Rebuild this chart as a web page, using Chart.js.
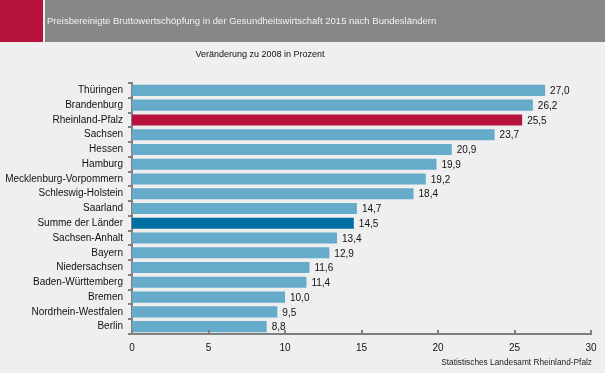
<!DOCTYPE html>
<html>
<head>
<meta charset="utf-8">
<script src="https://cdn.jsdelivr.net/npm/chart.js@4/dist/chart.umd.min.js"></script>
<style>
  body { margin: 0; background: #eeefee; font-family: "Liberation Sans", Arial, sans-serif; }
  #wrap { position: relative; width: 605px; height: 373px; overflow: hidden; }
  #kopf-rot { position: absolute; left: 0; top: 0; width: 43px; height: 42px; background: #b5123e; }
  #kopf { position: absolute; left: 45px; top: 0; width: 560px; height: 42px; background: #878787; }
  #kopf span { position: absolute; left: 2px; top: 15px; color: #f2f2f2; font-size: 9.5px; }
  #unter { position: absolute; left: 0; width: 520px; top: 49px; text-align: center; font-size: 9px; color: #111; }
  #quelle { position: absolute; right: 13px; top: 357px; font-size: 8.3px; color: #222; }
  canvas { position: absolute; left: 0; top: 0; }
</style>
</head>
<body>
<div id="wrap">
  <canvas id="grafik" width="605" height="373"></canvas>
  <div id="kopf-rot"></div>
  <div id="kopf"><span>Preisbereinigte Bruttowertschöpfung in der Gesundheitswirtschaft 2015 nach Bundesländern</span></div>
  <div id="unter">Veränderung zu 2008 in Prozent</div>
  <div id="quelle">Statistisches Landesamt Rheinland-Pfalz</div>
</div>
<script>
// Daten
const laender = ['Thüringen', 'Brandenburg', 'Rheinland-Pfalz', 'Sachsen', 'Hessen', 'Hamburg',
  'Mecklenburg-Vorpommern', 'Schleswig-Holstein', 'Saarland', 'Summe der Länder', 'Sachsen-Anhalt',
  'Bayern', 'Niedersachsen', 'Baden-Württemberg', 'Bremen', 'Nordrhein-Westfalen', 'Berlin'];
const veraenderung = [27.0, 26.2, 25.5, 23.7, 20.9, 19.9, 19.2, 18.4, 14.7, 14.5, 13.4, 12.9, 11.6, 11.4, 10.0, 9.5, 8.8];
const xTicks = [0, 5, 10, 15, 20, 25, 30];

const farben = laender.map(l => {
  if (l === 'Rheinland-Pfalz') return '#b5123e';
  if (l === 'Summe der Länder') return '#0070a3';
  return '#66abca';
});

const schrift = '"Liberation Sans", Arial, sans-serif';

// Werte rechts neben den Balken
const wertePlugin = {
  id: 'werte',
  afterDatasetsDraw(chart) {
    const ctx = chart.ctx;
    ctx.save();
    ctx.font = '10px ' + schrift;
    ctx.fillStyle = '#111';
    ctx.textBaseline = 'middle';
    chart.getDatasetMeta(0).data.forEach((bar, i) => {
      ctx.fillText(veraenderung[i].toFixed(1).replace('.', ','), bar.x + 5, bar.y + 1);
    });
    ctx.restore();
  }
};

// kleine Teilstriche nach innen an der x-Achse
const xStrichePlugin = {
  id: 'xStriche',
  afterDraw(chart) {
    const ctx = chart.ctx;
    const x = chart.scales.x;
    ctx.save();
    ctx.strokeStyle = '#808080';
    ctx.lineWidth = 2;
    xTicks.forEach(v => {
      const px = Math.round(x.getPixelForValue(v));
      ctx.beginPath();
      ctx.moveTo(px, x.top);
      ctx.lineTo(px, x.top - 4);
      ctx.stroke();
    });
    ctx.restore();
  }
};

new Chart(document.getElementById('grafik').getContext('2d'), {
  type: 'bar',
  data: {
    labels: laender,
    datasets: [{
      data: veraenderung,
      backgroundColor: farben,
      borderWidth: 0,
      barPercentage: 0.75,
      categoryPercentage: 1
    }]
  },
  options: {
    indexAxis: 'y',
    responsive: false,
    animation: false,
    layout: { padding: { top: 83, right: 14, left: 0, bottom: 0 } },
    plugins: { legend: { display: false }, tooltip: { enabled: false } },
    scales: {
      x: {
        min: 0,
        max: 30,
        afterFit(scale) { scale.height = 39; },
        afterBuildTicks(scale) { scale.ticks = xTicks.map(v => ({ value: v })); },
        grid: { display: false, drawTicks: false },
        border: { color: '#808080', width: 2 },
        ticks: { padding: 8, color: '#111', font: { family: schrift, size: 10 } }
      },
      y: {
        afterFit(scale) { scale.width = 132; },
        grid: { drawOnChartArea: false, drawTicks: true, tickLength: 4, color: '#808080', lineWidth: 2 },
        border: { color: '#808080', width: 2 },
        ticks: { padding: 5, color: '#111', autoSkip: false, font: { family: schrift, size: 10 } }
      }
    }
  },
  plugins: [wertePlugin, xStrichePlugin]
});
</script>
</body>
</html>
